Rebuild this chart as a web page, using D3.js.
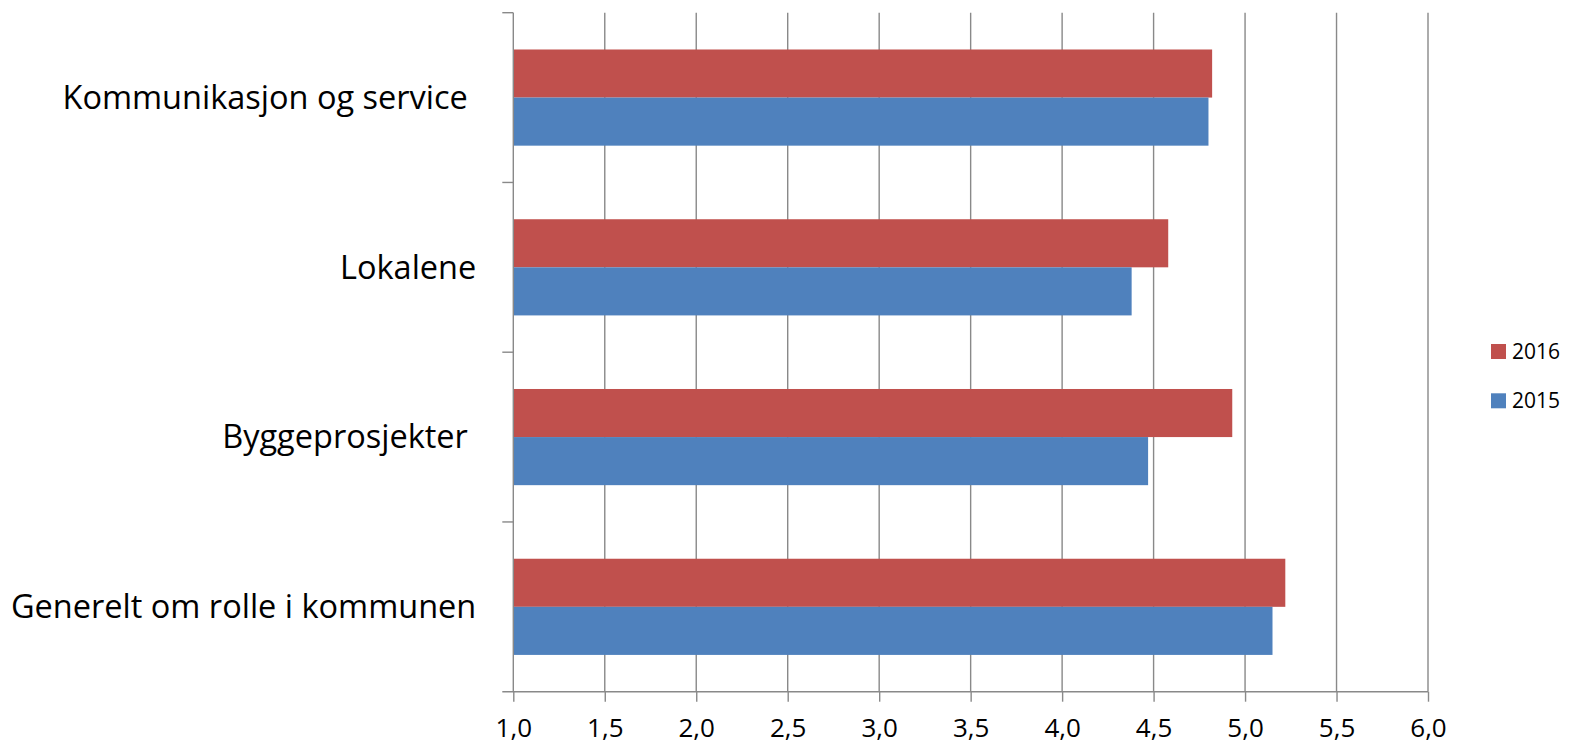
<!DOCTYPE html>
<html>
<head>
<meta charset="utf-8">
<script src="https://cdn.jsdelivr.net/npm/d3@7"></script>
<style>
  body { margin: 0; background: #fff; }
  text { font-family: "Open Sans", "Liberation Sans", sans-serif; fill: #000; }
</style>
</head>
<body>
<div id="chart"></div>
<script>
var categories = ["Kommunikasjon og service ", "Lokalene", "Byggeprosjekter ", "Generelt om rolle i kommunen"];
var seriesNames = ["2016", "2015"];
var values2016 = [4.82, 4.58, 4.93, 5.22];
var values2015 = [4.80, 4.38, 4.47, 5.15];
var xTicks = [1.0, 1.5, 2.0, 2.5, 3.0, 3.5, 4.0, 4.5, 5.0, 5.5, 6.0];

var colors = {"2016": "#C0504D", "2015": "#4F81BD"};
var gridColor = "#898989";

var W = 1570, H = 748;
var margin = {top: 12.7, left: 513.3, right: 142, bottom: 56.3};
var width = W - margin.left - margin.right,
    height = H - margin.top - margin.bottom;

var svg = d3.select("#chart").append("svg")
    .attr("width", W)
    .attr("height", H)
  .append("g")
    .attr("transform", "translate(" + margin.left + "," + margin.top + ")");

var x = d3.scaleLinear().domain([1, 6]).range([0, width]);
var y = d3.scaleBand().domain(categories).range([0, height]);
var inner = d3.scaleBand().domain(seriesNames)
    .range([0, y.bandwidth()]).paddingOuter(0.765).paddingInner(0);

// vertical gridlines
svg.selectAll(".grid")
    .data(xTicks.slice(1))
  .enter().append("line")
    .attr("x1", function(d) { return x(d); })
    .attr("x2", function(d) { return x(d); })
    .attr("y1", 0)
    .attr("y2", height)
    .attr("stroke", gridColor)
    .attr("stroke-width", 1.4);

var data = [];
categories.forEach(function(c, i) {
  data.push({cat: c, s: "2016", v: values2016[i]});
  data.push({cat: c, s: "2015", v: values2015[i]});
});

svg.selectAll(".bar")
    .data(data)
  .enter().append("rect")
    .attr("class", "bar")
    .attr("x", x(1))
    .attr("y", function(d) { return y(d.cat) + inner(d.s); })
    .attr("width", function(d) { return x(d.v) - x(1); })
    .attr("height", inner.bandwidth())
    .attr("fill", function(d) { return colors[d.s]; });

// x axis
var xAxis = svg.append("g")
    .attr("transform", "translate(0," + height + ")")
    .call(d3.axisBottom(x).tickValues(xTicks).tickSize(10).tickPadding(17)
      .tickFormat(function(d) { return d3.format(".1f")(d).replace(".", ","); }));
xAxis.select(".domain").attr("d", "M-11,0H" + width);
xAxis.selectAll("line, path").attr("stroke", gridColor).attr("stroke-width", 1.4);
xAxis.selectAll("text")
    .style("font-family", "'Open Sans', sans-serif")
    .style("font-size", "26px")
    .attr("fill", "#000");

// y axis with ticks between categories
var yAx = svg.append("g");
yAx.append("line")
    .attr("x1", 0).attr("x2", 0).attr("y1", 0).attr("y2", height)
    .attr("stroke", gridColor).attr("stroke-width", 1.4);
yAx.selectAll(".ytick")
    .data(categories)
  .enter().append("line")
    .attr("x1", -11).attr("x2", 0)
    .attr("y1", function(d) { return y(d); })
    .attr("y2", function(d) { return y(d); })
    .attr("stroke", gridColor).attr("stroke-width", 1.4);

yAx.selectAll(".ylabel")
    .data(categories)
  .enter().append("text")
    .attr("x", -37)
    .attr("y", function(d) { return y(d) + y.bandwidth() / 2; })
    .attr("dy", "0.35em")
    .attr("text-anchor", "end")
    .style("white-space", "pre")
    .style("font-size", "32.5px")
    .text(function(d) { return d; });

// legend
var legend = d3.select("svg").append("g")
    .attr("transform", "translate(1491,344)");
var li = legend.selectAll(".li")
    .data(seriesNames)
  .enter().append("g")
    .attr("transform", function(d, i) { return "translate(0," + (i * 49.3) + ")"; });
li.append("rect")
    .attr("width", 15).attr("height", 15)
    .attr("fill", function(d) { return colors[d]; });
li.append("text")
    .attr("x", 21).attr("y", 7.5).attr("dy", "0.35em")
    .style("font-size", "21px")
    .text(function(d) { return d; });
</script>
</body>
</html>
